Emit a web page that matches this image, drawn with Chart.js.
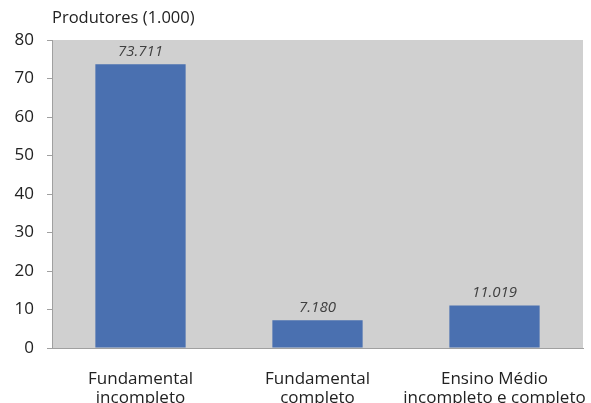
<!DOCTYPE html>
<html>
<head>
<meta charset="utf-8">
<script src="https://cdn.jsdelivr.net/npm/chart.js@4/dist/chart.umd.min.js"></script>
<style>
  html, body { margin: 0; padding: 0; background: #fff; }
  #wrap { width: 591px; height: 403px; position: relative; }
</style>
</head>
<body>
<div id="wrap"><canvas id="chart"></canvas></div>
<script>
"use strict";

// Producers by schooling level, in thousands
const categories = [
  ["Fundamental", "incompleto"],
  ["Fundamental", "completo"],
  ["Ensino Médio", "incompleto e completo"],
];
const producers = [73.711, 7.180, 11.019];
const yTicks = [0, 10, 20, 30, 40, 50, 60, 70, 80];

const FONT = "'Open Sans', 'DejaVu Sans', sans-serif";
const TEXT = "#222222";

// gray plot panel behind the bars
const panelBg = {
  id: "panelBg",
  beforeDraw(chart) {
    const { ctx, chartArea: a } = chart;
    ctx.save();
    ctx.fillStyle = "#d0d0d0";
    ctx.fillRect(a.left, a.top, a.right - a.left, a.bottom - a.top);
    ctx.restore();
  },
};

// italic value above each bar, pt.br number format (73.711)
const valueLabels = {
  id: "valueLabels",
  afterDatasetsDraw(chart) {
    const { ctx } = chart;
    const meta = chart.getDatasetMeta(0);
    ctx.save();
    ctx.font = "italic 15px " + FONT;
    ctx.fillStyle = "#404040";
    ctx.textAlign = "center";
    ctx.textBaseline = "bottom";
    meta.data.forEach((bar, i) => {
      const txt = producers[i].toFixed(3);
      ctx.fillText(txt, bar.x, bar.y - 5);
    });
    ctx.restore();
  },
};

// unit caption over the y axis
const unitCaption = {
  id: "unitCaption",
  afterDraw(chart) {
    const { ctx, chartArea: a } = chart;
    ctx.save();
    ctx.font = "16.5px " + FONT;
    ctx.fillStyle = TEXT;
    ctx.textAlign = "left";
    ctx.textBaseline = "middle";
    ctx.fillText("Produtores (1.000)", a.left, 18);
    ctx.restore();
  },
};

new Chart(document.getElementById("chart"), {
  type: "bar",
  data: {
    labels: categories,
    datasets: [{
      data: producers,
      backgroundColor: "#4a70b0",
      borderWidth: 0,
      categoryPercentage: 1,
      barPercentage: 0.51,
    }],
  },
  options: {
    responsive: true,
    maintainAspectRatio: false,
    animation: false,
    layout: { padding: { top: 40, right: 8, left: 0, bottom: 0 } },
    plugins: {
      legend: { display: false },
      tooltip: { enabled: false },
    },
    scales: {
      x: {
        grid: { display: false },
        border: { display: true, color: "#a0a0a0", width: 1 },
        ticks: {
          color: TEXT,
          font: { family: FONT, size: 17, lineHeight: 1.15 },
          padding: 13,
          maxRotation: 0,
          autoSkip: false,
        },
        afterFit(scale) {
          scale.height = 55;
          // last label runs off the right edge, don't shrink the plot for it
          scale.paddingLeft = 0;
          scale.paddingRight = 0;
        },
      },
      y: {
        min: 0,
        max: 80,
        afterBuildTicks(scale) {
          scale.ticks = yTicks.map(v => ({ value: v }));
        },
        grid: {
          drawOnChartArea: false,
          drawTicks: true,
          tickLength: 5,
          color: "#a0a0a0",
        },
        border: { display: true, color: "#a0a0a0", width: 1 },
        ticks: {
          color: TEXT,
          font: { family: FONT, size: 17 },
          padding: 13,
        },
        afterFit(scale) { scale.width = 52; },
      },
    },
  },
  plugins: [panelBg, valueLabels, unitCaption],
});
</script>
</body>
</html>
